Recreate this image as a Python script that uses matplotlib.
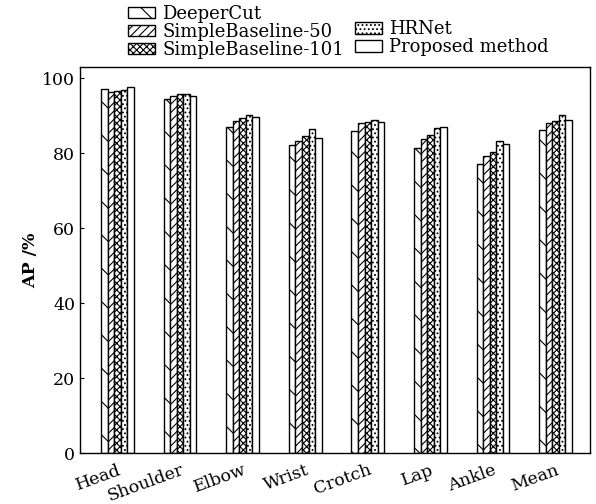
import matplotlib
matplotlib.use("Agg")
import matplotlib.pyplot as plt
import numpy as np
from matplotlib.patches import Patch

categories = ["Head", "Shoulder", "Elbow", "Wrist", "Crotch", "Lap", "Ankle", "Mean"]
methods = ["DeeperCut", "SimpleBaseline-50", "SimpleBaseline-101", "HRNet", "Proposed method"]
deepercut = [97.1, 94.5, 87.1, 82.2, 86.0, 81.5, 77.0, 86.3]
sb50 = [96.3, 95.3, 88.5, 83.2, 88.0, 83.8, 79.2, 88.1]
sb101 = [96.7, 95.8, 89.4, 84.6, 88.3, 84.9, 80.4, 88.7]
hrnet = [96.9, 95.8, 90.2, 86.4, 88.8, 86.8, 83.3, 90.3]
proposed = [97.7, 95.4, 89.8, 84.0, 88.3, 87.1, 82.5, 88.8]
yticks = [0, 20, 40, 60, 80, 100]

series = [deepercut, sb50, sb101, hrnet, proposed]
hatches = ["\\", "////", "xxxxx", "....", ""]

plt.rcParams["font.family"] = "DejaVu Serif"
plt.rcParams["hatch.linewidth"] = 0.8

fig = plt.figure(figsize=(5.96, 5.04), dpi=100)
ax = fig.add_axes([0.134, 0.101, 0.856, 0.766])

x = np.arange(len(categories))
w = 0.105
for i, (vals, h) in enumerate(zip(series, hatches)):
    ax.bar(x + (i - 2) * w, vals, width=w, facecolor="white", edgecolor="black",
           hatch=h, linewidth=1.0)

ax.set_xlim(-0.6, 7.55)
ax.set_ylim(0, 103)
ax.set_yticks(yticks)
ax.set_yticklabels([str(t) for t in yticks], fontsize=12.5)
ax.set_xticks(x)
ax.set_xticklabels(categories, rotation=20, ha="right", rotation_mode="anchor", fontsize=12.5)
ax.tick_params(axis="x", length=0, pad=6)
ax.tick_params(axis="y", direction="in", length=3)
ax.set_ylabel("AP /%", fontsize=12.5, fontweight="bold", labelpad=2)
for s in ax.spines.values():
    s.set_linewidth(1.0)

handles = [Patch(facecolor="white", edgecolor="black", hatch=h, label=m) for m, h in zip(methods, hatches)]
common = dict(frameon=False, fontsize=13, handlelength=1.5, handleheight=0.6,
              labelspacing=0.0, handletextpad=0.4, borderaxespad=0, borderpad=0)
leg1 = fig.legend(handles=handles[:3], loc="upper left", bbox_to_anchor=(0.215, 0.99), **common)
leg2 = fig.legend(handles=handles[3:], loc="upper left", bbox_to_anchor=(0.595, 0.96), **common)

fig.savefig("out.png", dpi=100)
